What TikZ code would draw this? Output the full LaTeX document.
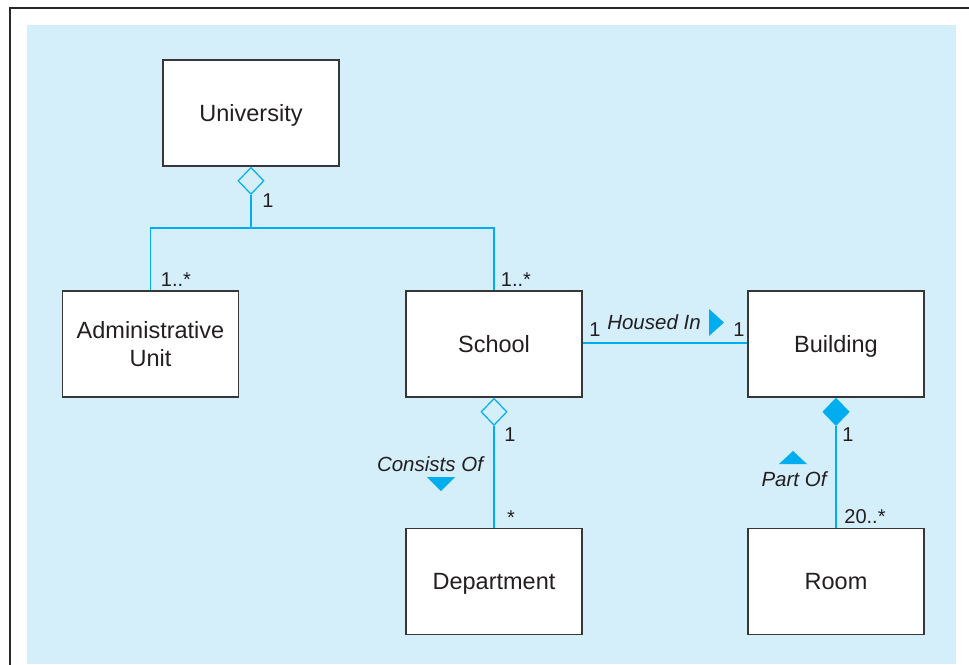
\documentclass[tikz,border=0pt]{standalone}
\usepackage{fontspec}
\setmainfont{Liberation Sans}
\usetikzlibrary{shapes.geometric}
\definecolor{bgblue}{RGB}{212,238,250}
\definecolor{lineblue}{RGB}{0,174,239}
\definecolor{framegray}{RGB}{40,40,40}
\definecolor{boxgray}{RGB}{55,55,58}
\definecolor{txt}{RGB}{35,31,32}
\tikzset{
  classbox/.style={draw=boxgray, line width=1.5pt, fill=white, minimum width=176pt, minimum height=106pt, inner sep=0pt, align=center, text=txt, text depth=0pt, font=\fontsize{23.5}{28}\selectfont},
  assoc/.style={draw=lineblue, line width=1.4pt},
  hdiam/.style={diamond, draw=lineblue, line width=1.2pt, fill=bgblue, minimum width=26pt, minimum height=27pt, inner sep=0pt, anchor=north},
  fdiam/.style={diamond, draw=lineblue, line width=1.2pt, fill=lineblue, minimum width=26pt, minimum height=27pt, inner sep=0pt, anchor=north},
  mult/.style={text=txt, font=\fontsize{20}{24}\selectfont, anchor=base, inner sep=0pt},
  rolename/.style={text=txt, font=\fontsize{20.5}{24}\selectfont\itshape, anchor=base, inner sep=0pt},
  dirtri/.style={fill=lineblue}
}
\begin{document}
\begin{tikzpicture}[x=1pt,y=-1pt]
\useasboundingbox (0,0) rectangle (969,664);
\fill[white] (0,0) rectangle (969,664);
\fill[bgblue] (27,25) rectangle (956,664);
\draw[framegray, line width=2.5pt] (10,670) -- (10,8) -- (975,8);

% classes
\node[classbox] (univ) at (251,113) {University};
\node[classbox] (admin) at (150.5,344) {Administrative\\Unit};
\node[classbox] (school) at (494,344) {School};
\node[classbox] (bldg) at (836,344) {Building};
\node[classbox] (dept) at (494,581.5) {Department};
\node[classbox] (room) at (836,581.5) {Room};

% University aggregation
\node[hdiam] (ud) at (univ.south) {};
\coordinate (j) at (251,228);
\draw[assoc] (ud.south) -- (j);
\draw[assoc] (admin.north) |- (j) -| (school.north);
\node[mult] (m1) at (268,207) {1};
\node[mult] (m2) at (176,286) {1..*};
\node[mult] (m3) at (516,286) {1..*};

% School - Building association
\draw[assoc] (school.east |- 0,343) coordinate (se) -- (bldg.west |- 0,343) coordinate (bw);
\node[mult] (m4) at (595,336) {1};
\node[rolename] (housed) at (654,329) {Housed In};
\fill[dirtri] (709,309) -- (724,322.5) -- (709,336) -- cycle;
\node[mult] (m5) at (739,336) {1};

% School - Department aggregation
\node[hdiam] (sd) at (school.south) {};
\draw[assoc] (sd.south) -- (dept.north);
\node[mult] (m6) at (510,441) {1};
\node[rolename] (consists) at (430,471) {Consists Of};
\fill[dirtri] (427,477) -- (455,477) -- (441,491) -- cycle;
\node[mult] (m7) at (511,524) {*};

% Building - Room composition
\node[fdiam] (bd) at (bldg.south) {};
\draw[assoc] (bd.south) -- (room.north);
\node[mult] (m8) at (848,441) {1};
\fill[dirtri] (779,464) -- (807,464) -- (793,451) -- cycle;
\node[rolename] (partof) at (794,486) {Part Of};
\node[mult] (m9) at (865,523) {20..*};
\end{tikzpicture}
\end{document}
